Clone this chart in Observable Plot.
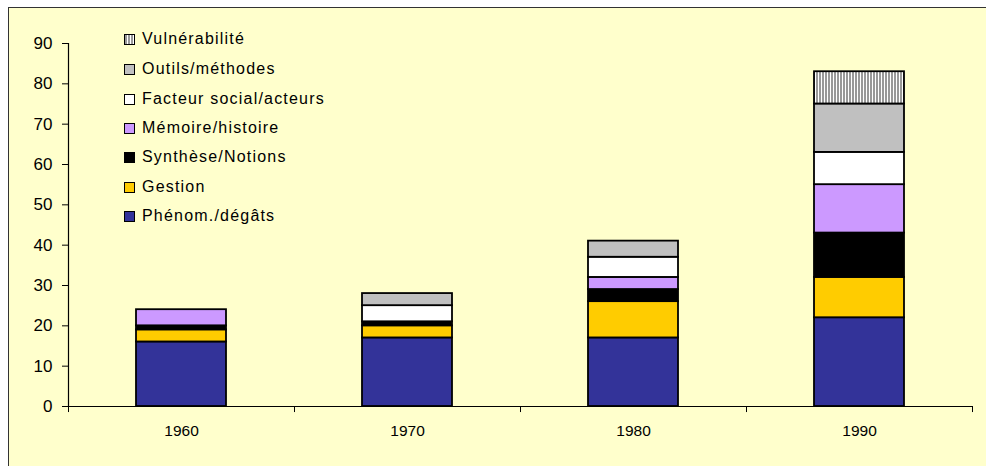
<!DOCTYPE html>
<html><head><meta charset="utf-8">
<script src="https://cdn.jsdelivr.net/npm/d3@7"></script>
<script src="https://cdn.jsdelivr.net/npm/@observablehq/plot@0.6"></script>
<style>
body{margin:0;background:#fff;font-family:Arial,"Liberation Sans",sans-serif;}
#wrap{position:relative;width:986px;height:466px;overflow:hidden;}
#frame{position:absolute;left:8px;top:7px;width:1000px;height:500px;border:1.5px solid #333;background:#ffffcc;}
#chart{position:absolute;left:0;top:0;}
#legend{position:absolute;left:124px;top:0;}
.item{position:absolute;left:0;height:20px;display:flex;align-items:center;white-space:nowrap;font-size:16px;letter-spacing:1.2px;color:#000;}
.sw{width:9px;height:9px;border:1px solid #000;margin-right:7px;flex:none;}
</style></head>
<body>
<div id="wrap"><div id="frame"></div><div id="chart"></div><div id="legend"></div></div>
<script>
const years = ["1960", "1970", "1980", "1990"];
const series = ["Phénom./dégâts", "Gestion", "Synthèse/Notions", "Mémoire/histoire", "Facteur social/acteurs", "Outils/méthodes", "Vulnérabilité"];
const phenom   = [16, 17, 17, 22];
const gestion  = [3, 3, 9, 10];
const synthese = [1, 1, 3, 11];
const memoire  = [4, 0, 3, 12];
const facteur  = [0, 4, 5, 8];
const outils   = [0, 3, 4, 12];
const vulner   = [0, 0, 0, 8];
const yTicks = [0, 10, 20, 30, 40, 50, 60, 70, 80, 90];
const colors = ["#333399", "#ffcc00", "#000000", "#cc99ff", "#ffffff", "#c0c0c0", "url(#vuln)"];

const values = [phenom, gestion, synthese, memoire, facteur, outils, vulner];
const data = [];
series.forEach((s, i) => years.forEach((yr, j) => {
  if (values[i][j] > 0) data.push({year: yr, series: s, value: values[i][j]});
}));

const W = 986, H = 466, mL = 68, mR = 14, mT = 43, mB = 60;
const half = (W - mL - mR) / years.length / 2;

const chart = Plot.plot({
  width: W, height: H,
  marginLeft: mL, marginRight: mR, marginTop: mT, marginBottom: mB,
  style: {background: "transparent", fontFamily: "Arial, 'Liberation Sans', sans-serif", color: "#000"},
  x: {domain: years, paddingInner: 0.6, paddingOuter: 0.3, label: null},
  y: {domain: [0, 90], label: null},
  color: {domain: series, range: colors},
  marks: [
    Plot.barY(data, {x: "year", y: "value", fill: "series", stroke: "#000", strokeWidth: 1.8}),
    Plot.ruleY([0], {stroke: "#000", strokeWidth: 1.2}),
    Plot.ruleX([years[0]], {dx: -half, y1: 0, y2: 90, stroke: "#000", strokeWidth: 1.2}),
    Plot.ruleX(years, {x: d => d, dx: -half, y1: 0, y2: -1.5, stroke: "#000"}),
    Plot.ruleX([years[years.length - 1]], {dx: half, y1: 0, y2: -1.5, stroke: "#000"}),
    Plot.axisY({ticks: yTicks, tickSize: 6, tickPadding: 10, fontSize: 17, label: null}),
    Plot.axisX({tickSize: 0, tickPadding: 18, fontSize: 15.5, label: null})
  ]
});

const svg = d3.select(chart.tagName === "svg" ? chart : chart.querySelector("svg"));
const defs = svg.insert("defs", ":first-child");
const pat = defs.append("pattern").attr("id", "vuln").attr("patternUnits", "userSpaceOnUse")
  .attr("width", 3).attr("height", 10);
pat.append("rect").attr("width", 3).attr("height", 10).attr("fill", "#fff");
pat.append("rect").attr("width", 2).attr("height", 10).attr("fill", "#999");

document.getElementById("chart").appendChild(chart);

const legendCenters = [39, 69, 99, 128, 157, 187, 216];
const legendOrder = series.slice().reverse();
const lcol = colors.slice().reverse();
const leg = document.getElementById("legend");
legendOrder.forEach((s, i) => {
  const it = document.createElement("div");
  it.className = "item";
  it.style.top = (legendCenters[i] - 10) + "px";
  const sw = document.createElement("span");
  sw.className = "sw";
  if (lcol[i].startsWith("url")) sw.style.background = "repeating-linear-gradient(90deg,#999 0 2px,#fff 2px 3px)";
  else sw.style.background = lcol[i];
  it.appendChild(sw);
  const t = document.createElement("span");
  t.textContent = s;
  it.appendChild(t);
  leg.appendChild(it);
});
</script>
</body></html>
